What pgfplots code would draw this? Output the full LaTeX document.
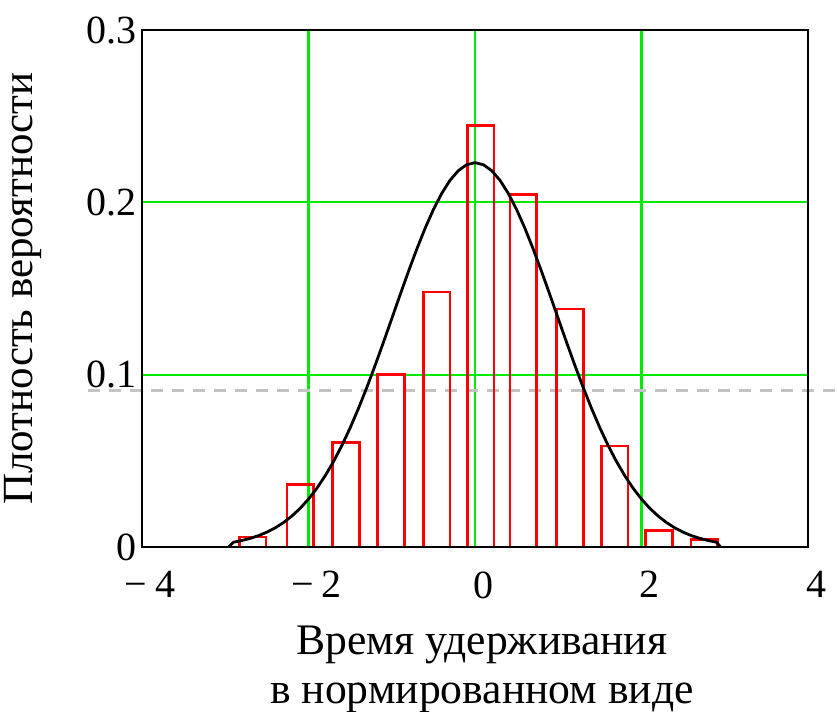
\documentclass[border=0pt]{standalone}
\usepackage{pgfplots}
\pgfplotsset{compat=1.18}
\usepackage{fontspec}
\setmainfont{Liberation Serif}
\definecolor{grgreen}{RGB}{0,235,0}
\definecolor{barred}{RGB}{255,0,0}
\definecolor{dashgray}{RGB}{195,195,195}
\begin{document}
\begin{tikzpicture}
\begin{axis}[
  scale only axis, width=333pt, height=258.5pt,
  xmin=-4, xmax=4, ymin=0, ymax=0.3,
  xtick={-4,-2,0,2,4},
  xticklabels={{−\hspace{4pt}4},{−\hspace{4pt}2},0,2,4},
  ytick={0,0.1,0.2,0.3},
  yticklabels={0,0.1,0.2,0.3},
  major tick length=0pt,
  grid=major,
  major grid style={grgreen, line width=1.1pt},
  axis line style={black, line width=1.2pt},
  tick label style={font=\fontsize{20}{22}\selectfont, inner sep=0pt},
  xticklabel style={yshift=-12pt, xshift=4pt},
  yticklabel style={xshift=-2.5pt},
  xlabel={Время удерживания\\в нормированном виде},
  xlabel style={font=\fontsize{21.8}{24.5}\selectfont, align=center, inner sep=0pt,
    at={(axis description cs:0.5105,-0.151)}, anchor=north},
  ylabel={Плотность вероятности},
  ylabel style={font=\fontsize{21.5}{27}\selectfont, inner sep=0pt,
    at={(axis description cs:-0.178,0.5)}, anchor=center, rotate=0},
  clip=false,
]
\coordinate (SW) at (rel axis cs:0,0);
\coordinate (NE) at (rel axis cs:1,1);
\addplot[dashgray, line width=1.2pt, dash pattern=on 6pt off 4.5pt, forget plot]
  coordinates {(-4.65,0.0908) (4.35,0.0908)};
\addplot[ybar, bar width=0.32, bar shift=0pt, draw=barred, fill=none, line width=1.3pt]
  coordinates {(-2.67,0.0059) (-2.10,0.0361) (-1.55,0.0605) (-1.01,0.1002) (-0.46,0.148)
  (0.07,0.2445) (0.58,0.2045) (1.14,0.138) (1.68,0.0586) (2.21,0.0096) (2.755,0.0043)};
\addplot[black, line width=1.4pt, line join=round] coordinates {
(-2.96,0) (-2.9,0.0028) (-2.8,0.00376) (-2.7,0.00501) (-2.6,0.0066) (-2.5,0.00861)
(-2.4,0.01112) (-2.3,0.0142) (-2.2,0.01795) (-2.1,0.02245) (-2.0,0.02779) (-1.9,0.03405)
(-1.8,0.04129) (-1.7,0.04954) (-1.6,0.05882) (-1.5,0.06911) (-1.4,0.08038) (-1.3,0.09252)
(-1.2,0.10537) (-1.1,0.11877) (-1.0,0.1325) (-0.9,0.14628) (-0.8,0.15981) (-0.7,0.17278)
(-0.6,0.18489) (-0.5,0.19579) (-0.4,0.20518) (-0.3,0.21279) (-0.2,0.2184) (-0.1,0.22184)
(0,0.223)
(0.1,0.22184) (0.2,0.2184) (0.3,0.21279) (0.4,0.20518) (0.5,0.19579) (0.6,0.18489)
(0.7,0.17278) (0.8,0.15981) (0.9,0.14628) (1.0,0.1325) (1.1,0.11877) (1.2,0.10537)
(1.3,0.09252) (1.4,0.08038) (1.5,0.06911) (1.6,0.05882) (1.7,0.04954) (1.8,0.04129)
(1.9,0.03405) (2.0,0.02779) (2.1,0.02245) (2.2,0.01795) (2.3,0.0142) (2.4,0.01112)
(2.5,0.00861) (2.6,0.0066) (2.7,0.00501) (2.8,0.00376) (2.9,0.0028) (2.95,0)};
\draw[black, line width=1.2pt] (rel axis cs:0,0) rectangle (rel axis cs:1,1);
\end{axis}
\pgfresetboundingbox
\path[use as bounding box] ([shift={(-71pt,-82pt)}]SW) rectangle ([shift={(14.5pt,15pt)}]NE);
\end{tikzpicture}
\end{document}
